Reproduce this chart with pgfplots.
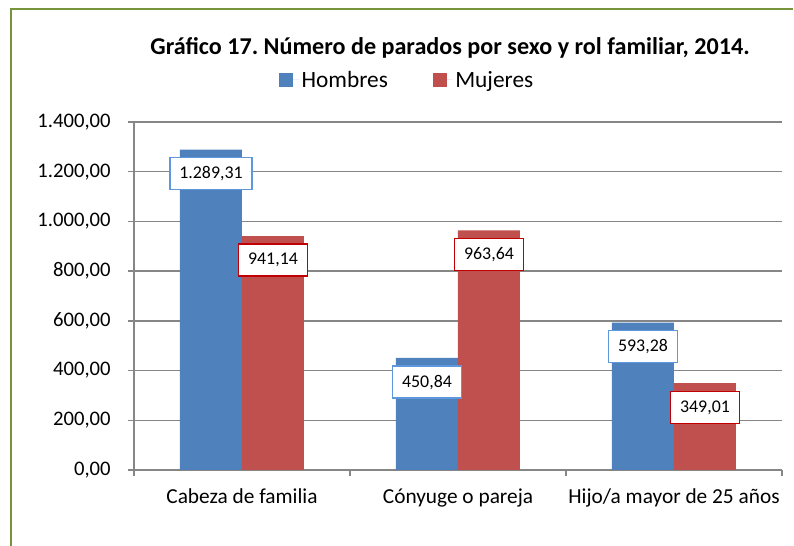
\documentclass[border=0pt]{standalone}
\usepackage{pgfplots}
\pgfplotsset{compat=1.18}
\usepackage{fontspec}
\setmainfont{Carlito}
\frenchspacing
\definecolor{barblue}{HTML}{4F81BD}
\definecolor{barred}{HTML}{C0504D}
\definecolor{gridgray}{HTML}{868686}
\definecolor{framegreen}{HTML}{77933C}
\definecolor{lblblue}{HTML}{5F97DD}
\definecolor{lblred}{HTML}{C00000}
\begin{document}
\begin{tikzpicture}
\useasboundingbox (-100.5pt,-57pt) rectangle (495pt,352.5pt);
\draw[framegreen, line width=1.5pt] (-92.25pt,-60pt) -- (-92.25pt,345.75pt) -- (494.5pt,345.75pt);
\begin{axis}[
  scale only axis, width=486pt, height=261pt,
  xmin=-0.5, xmax=2.5, ymin=0, ymax=1400,
  ytick={0,200,...,1400},
  scaled y ticks=false,
  ymajorgrids, grid style={gridgray, line width=1pt},
  axis x line*=bottom, axis y line*=left,
  axis line style={gridgray, line width=1pt},
  tick align=outside, major tick length=4.5pt, minor tick length=4.5pt,
  tick style={gridgray, line width=1pt},
  xtick={0,1,2},
  xticklabels={Cabeza de familia, Cónyuge o pareja, Hijo/a mayor de 25 años},
  major x tick style={draw=none},
  minor xtick={-0.5,0.5,1.5,2.5},
  x tick label style={font=\fontsize{16}{19}\selectfont, yshift=-6pt},
  y tick label style={font=\fontsize{15.5}{18}\selectfont, xshift=-9.5pt},
  ybar=0pt, bar width=46.5pt,
  nodes near coords,
  nodes near coords align={anchor=north},
  every node near coord/.append style={yshift=-5.5pt, fill=white, line width=1.2pt,
     font=\fontsize{13.4}{16}\selectfont, text=black, inner xsep=7.2pt, minimum height=24pt},
  title={Gráfico 17. Número de parados por sexo y rol familiar, 2014.},
  title style={at={(0.4877,1.2155)}, anchor=center, yshift=-6.75pt, font=\bfseries\fontsize{18.1}{21}\selectfont},
  legend style={at={(0.422,1.1207)}, anchor=center, draw=none, fill=none,
     font=\fontsize{17.5}{21}\selectfont, legend columns=2,
     /tikz/every even column/.append style={column sep=31.5pt}},
  legend image code/.code={\fill[#1] (0pt,-5.25pt) rectangle (10.5pt,5.25pt); \path (0pt,0pt) -- (15pt,0pt);},
  /pgf/number format/.cd, fixed, fixed zerofill, precision=2, use comma, 1000 sep={.}, assume math mode=true
]
\addplot[fill=barblue, draw=none, every node near coord/.append style={draw=lblblue}]
  coordinates {(0,1289.31) (1,450.84) (2,593.28)};
\addplot[fill=barred, draw=none, every node near coord/.append style={draw=lblred}]
  coordinates {(0,941.14) (1,963.64) (2,349.01)};
\legend{Hombres, Mujeres}
\end{axis}
\end{tikzpicture}
\end{document}
